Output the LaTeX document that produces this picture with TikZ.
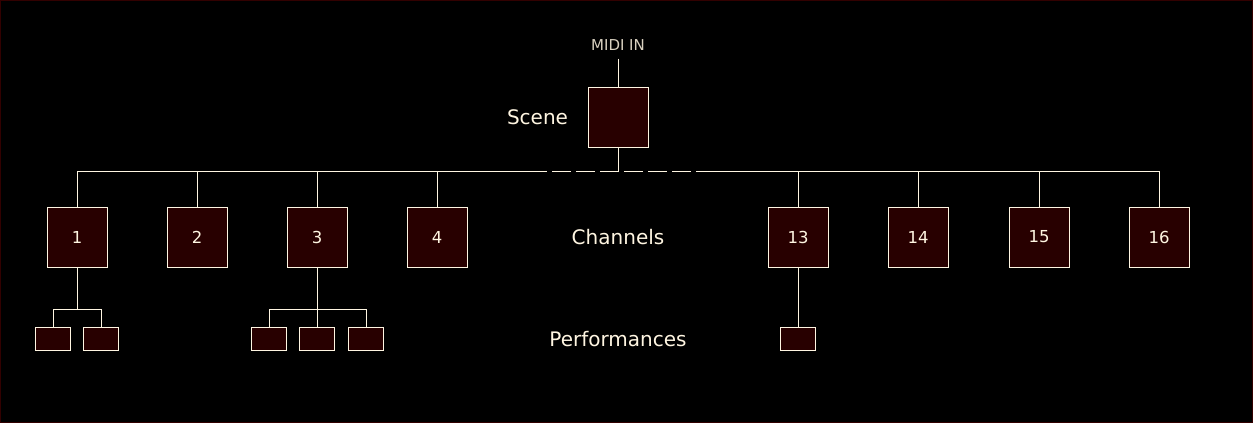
\documentclass[tikz,border=0pt]{standalone}
\usepackage{fontspec}
\setmainfont{DejaVu Sans}
\usetikzlibrary{positioning}
\definecolor{sBack}{RGB}{0,0,0}
\definecolor{sEdge}{RGB}{50,0,0}
\definecolor{sFill}{RGB}{40,0,0}
\definecolor{sLine}{RGB}{255,246,226}

\begin{document}
\begin{tikzpicture}[
	x=1pt, y=-1pt,
	line width=1pt,
	chan/.style={
		draw=sLine, fill=sFill, minimum size=60pt, inner sep=0pt,
		text=sLine, font=\fontsize{16.5}{18}\selectfont
	},
	perf/.style={
		draw=sLine, fill=sFill, minimum width=35pt, minimum height=23pt, inner sep=0pt
	},
	lbl/.style={text=sLine, inner sep=0pt, font=\fontsize{20}{24}\selectfont},
	wire/.style={draw=sLine}
	]
	\fill[sBack, draw=sEdge] (0.5,0.5) rectangle (1252.5,422.5);
	\useasboundingbox (0,0) rectangle (1253,423);

	\node[chan] (scene) at (618,117) {};
	\node[lbl, left=19pt of scene] (scenelbl) {Scene};
	\node[lbl, inner sep=8pt, font=\fontsize{15}{18}\selectfont, text=sLine!85!black, above=28pt of scene] (midi) {MIDI IN};

	\foreach \n/\x in {1/77,2/197,3/317,4/437,13/798,14/918,15/1039,16/1159}
	\node[chan] (c\n) at (\x,237) {\n};
	\node[lbl] (chlbl) at (scene |- c1) {Channels};

	\foreach \n/\x in {1a/53,1b/101,3a/269,3b/317,3c/366,13a/798}
	\node[perf] (p\n) at (\x,339) {};
	\node[lbl] (perflbl) at (scene |- p1a) {Performances};

	% buses
	\coordinate (bus) at (0,171);
	\coordinate (sub) at (0,309);
	\coordinate (dashL) at (547,171);
	\coordinate (dashR) at (696,171);

	\draw[wire] (midi) -- (scene);
	\draw[wire] (scene) -- (scene |- bus);
	\foreach \n in {1,2,3,4,13,14,15,16}
	\draw[wire] (c\n) -- (c\n |- bus);
	\draw[wire] (c1 |- bus) -- (dashL);
	\draw[wire, dash pattern=on 19pt off 5pt, dash phase=19pt] (dashL) -- (dashR);
	\draw[wire] (dashR) -- (c16 |- bus);

	\draw[wire] (c1) -- (c1 |- sub);
	\draw[wire] (p1a) -- (p1a |- sub) -- (p1b |- sub) -- (p1b);
	\draw[wire] (c3) -- (c3 |- sub);
	\draw[wire] (p3a) -- (p3a |- sub) -- (p3c |- sub) -- (p3c);
	\draw[wire] (p3b) -- (p3b |- sub);
	\draw[wire] (c13) -- (p13a);
\end{tikzpicture}
\end{document}
